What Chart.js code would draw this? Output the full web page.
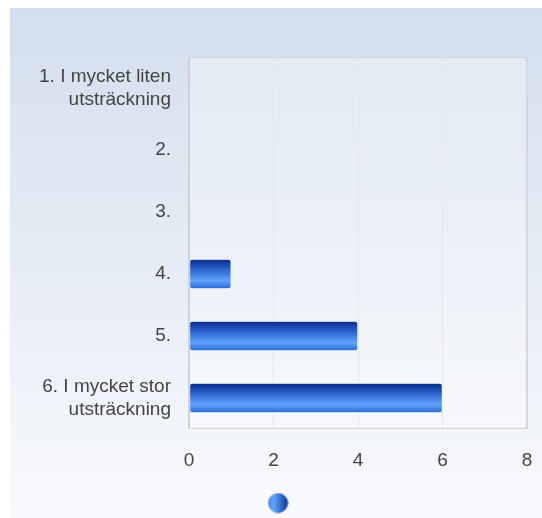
<!DOCTYPE html>
<html><head><meta charset="utf-8">
<script src="https://cdn.jsdelivr.net/npm/chart.js@4/dist/chart.umd.min.js"></script>
<style>
html,body{margin:0;padding:0;background:#fff;}
#wrap{position:absolute;left:10px;top:8px;width:532px;height:510px;background:linear-gradient(180deg,#d3dfee 0%,#e6ecf5 50%,#f9fafd 100%);}
canvas{display:block;}
</style></head><body>
<div id="wrap"><canvas id="c" width="532" height="510" style="width:532px;height:510px"></canvas></div>
<script>
const categories = [["1. I mycket liten","utsträckning"], "2.", "3.", "4.", "5.", ["6. I mycket stor","utsträckning"]];
const values = [0, 0, 0, 1, 4, 6];
const xTicks = [0, 2, 4, 6, 8];
const seriesName = "";

// legend marker image (gradient circle)
const mk = document.createElement('canvas');
mk.width = 21; mk.height = 21;
(function(){
  const g = mk.getContext('2d');
  const gr = g.createLinearGradient(0,0,21,0);
  gr.addColorStop(0,'#3f86e8');
  gr.addColorStop(0.3,'#5ea4fa');
  gr.addColorStop(1,'#0b3592');
  g.fillStyle = gr;
  g.beginPath(); g.arc(10.5,10.5,10,0,Math.PI*2); g.fill();
})();

function barGradient(c){
  const chart = c.chart;
  const ys = chart.scales && chart.scales.y;
  if (!ys || c.dataIndex === undefined) return '#2b63cf';
  const cy = ys.getPixelForValue(c.dataIndex);
  if (!isFinite(cy)) return '#2b63cf';
  const h = 30, t = cy - h/2;
  const gr = chart.ctx.createLinearGradient(0, t, 0, t+h);
  gr.addColorStop(0, '#0a2a86');
  gr.addColorStop(0.35, '#2b63cf');
  gr.addColorStop(0.72, '#5ea4fa');
  gr.addColorStop(1, '#2a66d2');
  return gr;
}

const plotBg = {
  id:'plotBg',
  beforeDatasetsDraw(chart){
    const {ctx, chartArea:a} = chart;
    ctx.save();
    ctx.fillStyle = 'rgba(255,255,255,0.3)';
    ctx.fillRect(a.left, a.top, a.right-a.left, a.bottom-a.top);
    ctx.restore();
  },
  afterDraw(chart){
    const {ctx, chartArea:a} = chart;
    ctx.save();
    ctx.strokeStyle = '#d2d4d8';
    ctx.lineWidth = 1;
    ctx.strokeRect(a.left+0.5, a.top+0.5, a.right-a.left-1, a.bottom-a.top-1);
    ctx.strokeStyle = '#cfd1d5';
    ctx.lineWidth = 2;
    ctx.beginPath(); ctx.moveTo(a.left, a.top); ctx.lineTo(a.left, a.bottom); ctx.stroke();
    // legend marker (series has no name)
    ctx.drawImage(mk, 268 - 10.5, 495 - 10.5);
    ctx.restore();
  }
};

new Chart(document.getElementById('c'), {
  type: 'bar',
  data: {
    labels: categories,
    datasets: [{
      label: seriesName,
      data: values,
      backgroundColor: barGradient,
      borderColor: '#ffffff',
      borderWidth: 1,
      borderSkipped: false,
      borderRadius: 3,
      barThickness: 30
    }]
  },
  options: {
    indexAxis: 'y',
    responsive: false,
    animation: false,
    layout: { padding: { top: 49, right: 15, left: 0, bottom: 40 } },
    scales: {
      x: {
        min: 0, max: 8,
        afterBuildTicks(s){ s.ticks = xTicks.map(v => ({value: v})); },
        ticks: { color: '#444', font: { family: 'Liberation Sans, Arial, sans-serif', size: 19 }, padding: 20 },
        grid: { color: '#d9dbe0', drawTicks: false },
        border: { display: false },
        afterFit(s){ s.height = 49; s.paddingLeft = 0; s.paddingRight = 0; }
      },
      y: {
        ticks: { color: '#444', font: { family: 'Liberation Sans, Arial, sans-serif', size: 19 }, padding: 18 },
        grid: { display: false, drawTicks: false },
        border: { display: false },
        afterFit(s){ s.width = 179; s.paddingTop = 0; s.paddingBottom = 0; }
      }
    },
    plugins: {
      tooltip: { enabled: false },
      legend: { display: false }
    }
  },
  plugins: [plotBg]
});
</script>
</body></html>
